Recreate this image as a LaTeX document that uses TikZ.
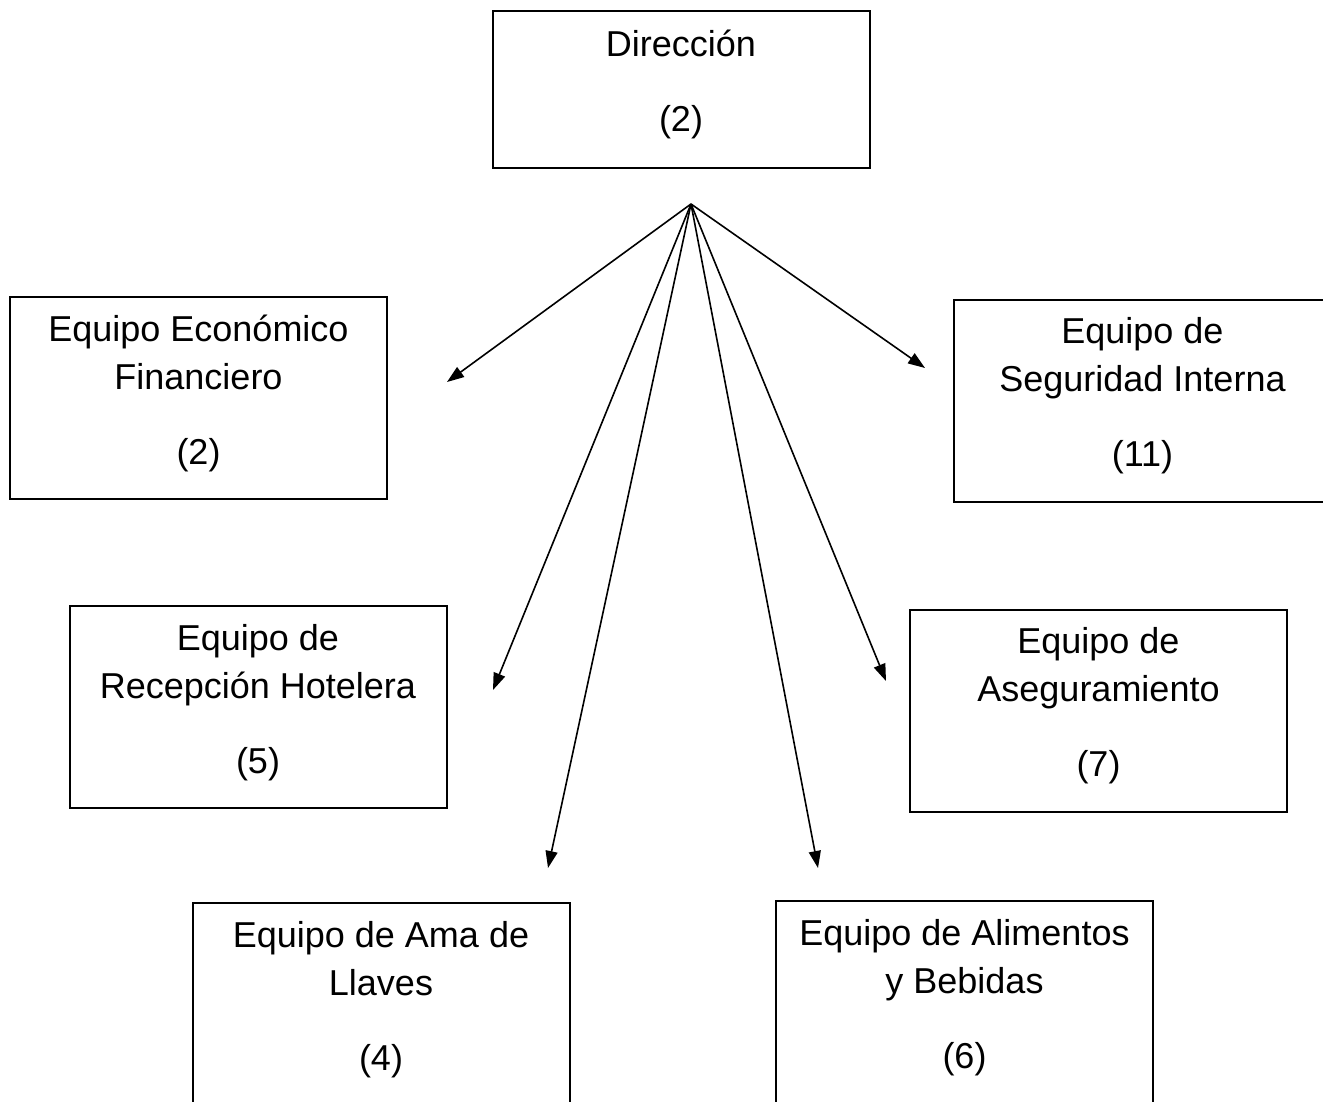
\documentclass[tikz,border=0pt]{standalone}
\usepackage{fontspec}
\setmainfont{Liberation Sans}
\usetikzlibrary{arrows.meta}
\begin{document}
\begin{tikzpicture}[x=0.5pt,y=-0.5pt,
  unit/.style={draw, line width=1pt, rectangle, minimum width=188.5pt,
    minimum height=101pt, align=center, inner sep=0pt,
    font=\fontsize{18}{24}\selectfont, text depth=8.5pt},
  link/.style={line width=0.8pt, -{Triangle[length=8.5pt,width=6pt]}}]
\useasboundingbox (0,0) rectangle (1323,1102);
\clip (0,0) rectangle (1323,1102);

% organisation units
\node[unit, minimum height=78.5pt] (dir) at (681,89.5) {Dirección\\[13.5pt](2)};
\node[unit] (eco) at (198.5,398) {Equipo Económico\\Financiero\\[13.5pt](2)};
\node[unit] (seg) at (1142.5,400.5) {Equipo de\\Seguridad Interna\\[13.5pt](11)};
\node[unit] (rec) at (258,707) {Equipo de\\Recepción Hotelera\\[13.5pt](5)};
\node[unit] (ase) at (1098.5,710.5) {Equipo de\\Aseguramiento\\[13.5pt](7)};
\node[unit] (ama) at (381,1004) {Equipo de Ama de\\Llaves\\[13.5pt](4)};
\node[unit] (ali) at (964.5,1002) {Equipo de Alimentos\\y Bebidas\\[13.5pt](6)};

% fan of arrows from the common origin below the head office
\coordinate (hub) at (691,204);
\coordinate (toEco) at (447,382);
\coordinate (toRec) at (493,690);
\coordinate (toAma) at (548,868);
\coordinate (toAli) at (818,868);
\coordinate (toAse) at (886,681);
\coordinate (toSeg) at (925,368);

\foreach \t in {toEco,toRec,toAma,toAli,toAse,toSeg}
  \draw[link] (hub) -- (\t);
\end{tikzpicture}
\end{document}
